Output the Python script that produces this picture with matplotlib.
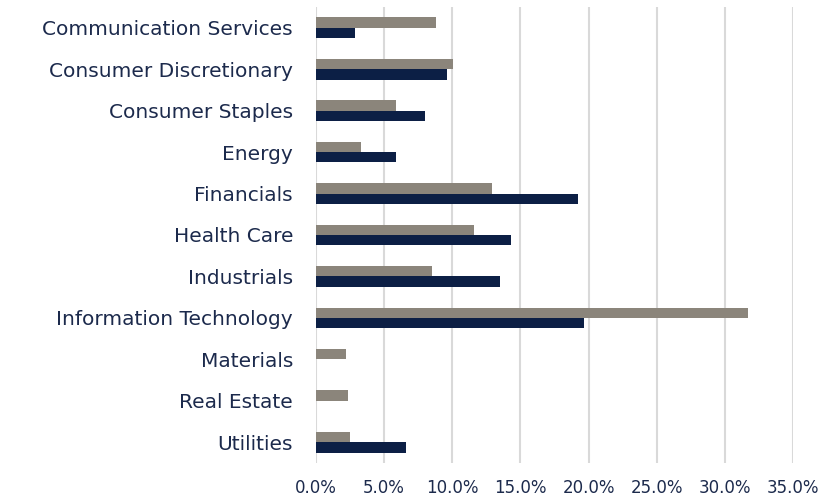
import matplotlib
matplotlib.use("Agg")
import matplotlib.pyplot as plt
import numpy as np
from matplotlib.ticker import FuncFormatter

categories = ["Communication Services", "Consumer Discretionary", "Consumer Staples",
              "Energy", "Financials", "Health Care", "Industrials",
              "Information Technology", "Materials", "Real Estate", "Utilities"]
benchmark = [8.83, 10.08, 5.87, 3.28, 12.9, 11.58, 8.49, 31.7, 2.2, 2.33, 2.5]
portfolio = [2.86, 9.62, 8.03, 5.9, 19.2, 14.3, 13.5, 19.7, 0.0, 0.0, 6.63]
xticks = [0, 5, 10, 15, 20, 25, 30, 35]

gray = "#8B857B"
navy = "#0C1F45"
text_color = "#1C2A4C"

fig = plt.figure(figsize=(8.32, 4.98), dpi=100)
ax = fig.add_axes([316/832, 1-463/498, (793-316)/832, (463-7)/498])

y = np.arange(len(categories))
h = 0.25
ax.barh(y - h/2, benchmark, height=h, color=gray, zorder=3)
ax.barh(y + h/2, portfolio, height=h, color=navy, zorder=3)

ax.set_ylim(len(categories) - 0.5, -0.5)
ax.set_xlim(0, 35)
ax.set_xticks(xticks)
ax.xaxis.set_major_formatter(FuncFormatter(lambda v, p: f"{v:.1f}%"))
ax.set_yticks(y)
ax.set_yticklabels(categories)
ax.grid(axis="x", color="#D9D9D9", linewidth=1.5, zorder=0)
for s in ax.spines.values():
    s.set_visible(False)
ax.tick_params(axis="both", length=0, colors=text_color)
ax.tick_params(axis="y", labelsize=14.5, pad=16.5)
ax.tick_params(axis="x", labelsize=12, pad=11.5)

fig.savefig("out.png", dpi=100)
